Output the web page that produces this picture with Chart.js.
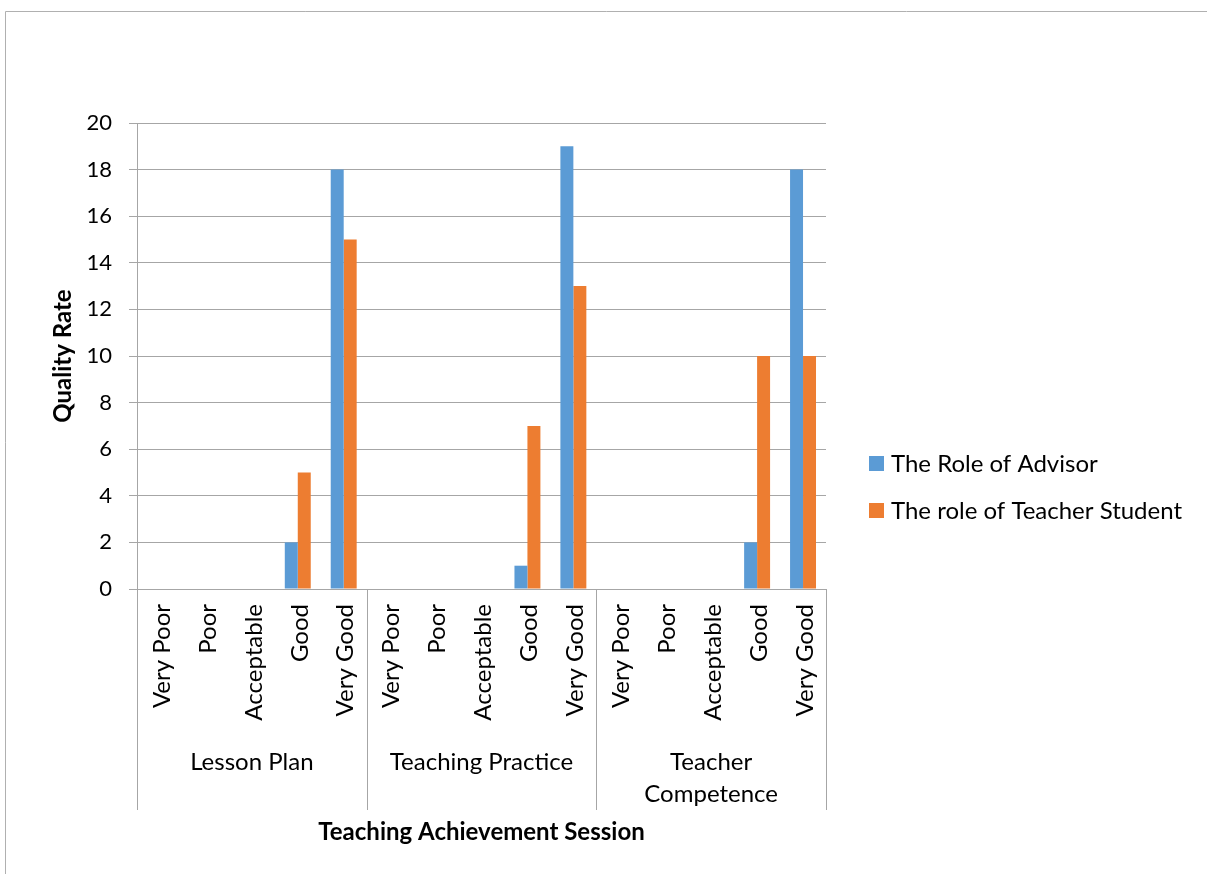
<!DOCTYPE html>
<html>
<head>
<meta charset="utf-8">
<script src="https://cdn.jsdelivr.net/npm/chart.js@4.4.1/dist/chart.umd.min.js"></script>
<style>
  html, body { margin: 0; padding: 0; background: #fff; }
  canvas { display: block; }
</style>
</head>
<body>
<canvas id="chart" width="1207" height="874"></canvas>
<script>
// Data
const ratings = ['Very Poor', 'Poor', 'Acceptable', 'Good', 'Very Good'];
const sessions = ['Lesson Plan', 'Teaching Practice', ['Teacher', 'Competence']];
const advisorValues = [0, 0, 0, 2, 18, 0, 0, 0, 1, 19, 0, 0, 0, 2, 18];
const studentValues = [0, 0, 0, 5, 15, 0, 0, 0, 7, 13, 0, 0, 0, 10, 10];
const yTicks = [0, 2, 4, 6, 8, 10, 12, 14, 16, 18, 20];

const FONT = 'Lato, "Open Sans", sans-serif';
const GRID = '#a6a6a6';

const labels = [];
sessions.forEach((s) => ratings.forEach((r) => labels.push(r)));

// frame, category labels, session groups, x title and legend
const decorPlugin = {
    id: 'decor',
    beforeDraw(chart) {
        const { ctx } = chart;
        ctx.save();
        ctx.strokeStyle = '#b0b0b0';
        ctx.lineWidth = 1;
        ctx.beginPath();
        ctx.moveTo(5.5, 874);
        ctx.lineTo(5.5, 11.5);
        ctx.lineTo(1207, 11.5);
        ctx.stroke();
        ctx.restore();
    },
    afterDraw(chart) {
        const { ctx, chartArea } = chart;
        const x = chart.scales.x;
        const base = chartArea.bottom;
        const n = ratings.length;
        ctx.save();

        // separators between sessions
        ctx.strokeStyle = GRID;
        ctx.lineWidth = 1;
        const half = (x.getPixelForValue(1) - x.getPixelForValue(0)) / 2;
        for (let g = 0; g <= sessions.length; g++) {
            const px = Math.round(g < sessions.length ? x.getPixelForValue(g * n) - half : x.getPixelForValue(g * n - 1) + half) + 0.5;
            ctx.beginPath();
            ctx.moveTo(px, base);
            ctx.lineTo(px, base + 221);
            ctx.stroke();
        }

        // rotated rating labels
        ctx.fillStyle = '#000';
        ctx.font = '24px ' + FONT;
        labels.forEach((lab, i) => {
            const px = x.getPixelForValue(i);
            ctx.save();
            ctx.translate(px + 2, base + 15);
            ctx.rotate(-Math.PI / 2);
            ctx.textAlign = 'right';
            ctx.textBaseline = 'middle';
            ctx.fillText(lab, 0, 0);
            ctx.restore();
        });

        // session labels
        ctx.textAlign = 'center';
        ctx.textBaseline = 'middle';
        sessions.forEach((s, g) => {
            const cx = (x.getPixelForValue(g * n) + x.getPixelForValue(g * n + n - 1)) / 2;
            const lines = Array.isArray(s) ? s : [s];
            lines.forEach((line, k) => ctx.fillText(line, cx, base + 173 + k * 32));
        });

        // x axis title
        ctx.font = 'bold 24px ' + FONT;
        ctx.fillText('Teaching Achievement Session', (chartArea.left + chartArea.right) / 2, base + 243);

        // legend
        ctx.font = '24px ' + FONT;
        ctx.textAlign = 'left';
        chart.data.datasets.forEach((ds, i) => {
            const y = 463 + i * 47;
            ctx.fillStyle = ds.backgroundColor;
            ctx.fillRect(869, y - 7, 15, 15);
            ctx.fillStyle = '#000';
            ctx.fillText(ds.label, 891, y + 1);
        });
        ctx.restore();
    }
};

new Chart(document.getElementById('chart'), {
    type: 'bar',
    data: {
        labels: labels,
        datasets: [
            { label: 'The Role of Advisor', data: advisorValues, backgroundColor: '#5b9bd5' },
            { label: 'The role of Teacher Student', data: studentValues, backgroundColor: '#ed7d31' }
        ]
    },
    options: {
        responsive: false,
        animation: false,
        devicePixelRatio: 1,
        layout: { padding: { left: 0, top: 123, right: 381, bottom: 285 } },
        categoryPercentage: 0.565,
        barPercentage: 1,
        plugins: { legend: { display: false }, tooltip: { enabled: false } },
        scales: {
            x: { display: false },
            y: {
                min: 0,
                max: 20,
                afterBuildTicks(scale) { scale.ticks = yTicks.map((v) => ({ value: v })); },
                afterFit(scale) { scale.width = 137; },
                ticks: { color: '#000', padding: 17, font: { family: FONT, size: 22 } },
                grid: { color: GRID, tickLength: 8, drawTicks: true },
                border: { color: GRID },
                title: {
                    display: true,
                    text: 'Quality Rate',
                    color: '#000',
                    font: { family: FONT, size: 24, weight: 'bold' },
                    padding: { top: 49, bottom: 0 }
                }
            }
        }
    },
    plugins: [decorPlugin]
});
</script>
</body>
</html>
